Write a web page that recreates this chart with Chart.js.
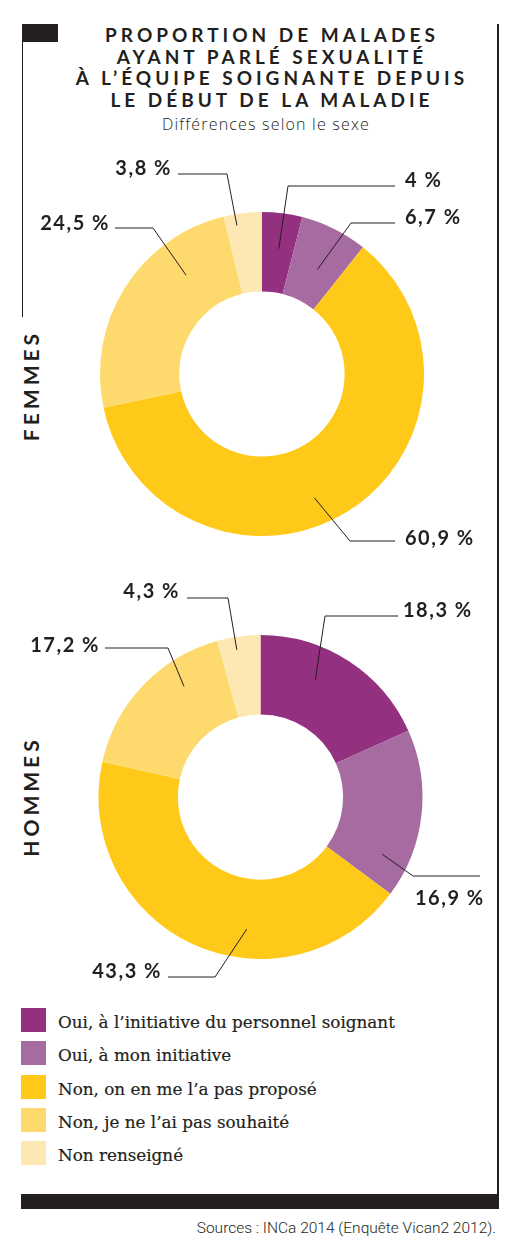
<!DOCTYPE html>
<html lang="fr">
<head>
<meta charset="utf-8">
<script src="https://cdn.jsdelivr.net/npm/chart.js@4"></script>
<style>
  html, body { margin: 0; padding: 0; background: #fff; }
  body { width: 513px; height: 1244px; position: relative; overflow: hidden; font-family: Lato, "Open Sans", sans-serif; color: #231f20; }
  .abs { position: absolute; }
  .rule { position: absolute; background: #231f20; }
  #title { left: 22px; width: 500px; top: 24px; text-align: center; font-weight: 700; font-size: 19px; line-height: 21.5px; letter-spacing: 4px; }
  #subtitle { left: 16px; width: 500px; top: 113px; text-align: center; font-family: "Open Sans", sans-serif; font-weight: 300; font-size: 16px; letter-spacing: 1.2px; }
  .side { position: absolute; font-weight: 700; font-size: 21px; letter-spacing: 4px; white-space: nowrap; transform-origin: center center; }
  #legend { left: 21px; top: 1008px; }
  .item { position: relative; height: 33.3px; }
  .sw { position: absolute; left: 0; top: 0; width: 25px; height: 24px; }
  .lt { position: absolute; left: 37px; top: 4px; font-family: "DejaVu Serif", serif; font-size: 16.8px; line-height: 20px; white-space: nowrap; -webkit-text-stroke: 0.2px #231f20; }
  #sources { right: 17px; top: 1219px; font-family: Roboto, sans-serif; font-weight: 300; font-size: 15.5px; white-space: nowrap; }
  canvas { position: absolute; left: 0; }
</style>
</head>
<body>
<div class="rule" style="left:22px;top:24px;width:36px;height:18px;"></div>
<div class="rule" style="left:21.5px;top:24px;width:1.2px;height:293px;"></div>
<div class="rule" style="left:497px;top:24px;width:1.5px;height:1172px;"></div>
<div class="rule" style="left:21px;top:1194px;width:478px;height:15px;"></div>

<div id="title" class="abs">PROPORTION DE MALADES<br>AYANT PARLÉ SEXUALITÉ<br>À L’ÉQUIPE SOIGNANTE DEPUIS<br>LE DÉBUT DE LA MALADIE</div>
<div id="subtitle" class="abs">Différences selon le sexe</div>

<div id="sideF" class="side">FEMMES</div>
<div id="sideH" class="side">HOMMES</div>

<canvas id="cF" width="513" height="420" style="top:145px;width:513px;height:420px;"></canvas>
<canvas id="cH" width="513" height="420" style="top:575px;width:513px;height:420px;"></canvas>

<div id="legend" class="abs"></div>
<div id="sources" class="abs">Sources : INCa 2014 (Enquête Vican2 2012).</div>

<script>
// ---- data ----
const categories = [
  "Oui, à l’initiative du personnel soignant",
  "Oui, à mon initiative",
  "Non, on en me l’a pas proposé",
  "Non, je ne l’ai pas souhaité",
  "Non renseigné"
];
const femmesValues = [4, 6.7, 60.9, 24.5, 3.8];
const hommesValues = [18.3, 16.9, 43.3, 17.2, 4.3];
const groupLabels = ["FEMMES", "HOMMES"];

// ---- styles ----
const colors = ["#93307f", "#a66ba1", "#fec918", "#fed96d", "#fde8b3"];
const ink = "#231f20";

// leader layout: t = fraction along slice, r = fraction of outer radius,
// ex/ey elbow offset from centre, lx end of horizontal, tx/ty text anchor, al alignment
const femmesLabelLayout = [
  {t:.53, r:.78, ex:26,  ey:-188, lx:133,  tx:143,  ty:-187, al:"left"},
  {t:.56, r:.73, ex:89,  ey:-151, lx:133,  tx:143,  ty:-150, al:"left"},
  {t:.54, r:.83, ex:88,  ey:167,  lx:133,  tx:143,  ty:171,  al:"left"},
  {t:.73, r:.77, ex:-109,ey:-146, lx:-147, tx:-152, ty:-144, al:"right"},
  {t:.30, r:.93, ex:-35, ey:-200, lx:-84,  tx:-90,  ty:-199, al:"right"}
];
const hommesLabelLayout = [
  {t:.38, r:.80, ex:64.5, ey:-181, lx:137.5, tx:142.5, ty:-180, al:"left"},
  {t:.81, r:.83, ex:152.5,ey:79,   lx:219.5, tx:154.5, ty:108,  al:"left"},
  {t:.38, r:.82, ex:-45.5,ey:180,  lx:-92.5, tx:-98.5, ty:181,  al:"right"},
  {t:.69, r:.83, ex:-92.5,ey:-149, lx:-155.5,tx:-160.5,ty:-145, al:"right"},
  {t:.41, r:.92, ex:-32.5,ey:-199, lx:-73.5, tx:-80.5, ty:-199, al:"right"}
];

function fmt(v) { return String(v).replace(".", ",") + " %"; }

const leaderPlugin = {
  id: "leaders",
  afterDatasetsDraw(chart, args, opts) {
    const ctx = chart.ctx;
    const meta = chart.getDatasetMeta(0);
    const values = chart.data.datasets[0].data;
    const layout = opts.layout;
    ctx.save();
    meta.data.forEach((arc, i) => {
      const p = arc.getProps(["x","y","startAngle","endAngle","outerRadius"], true);
      const L = layout[i];
      const a = p.startAngle + (p.endAngle - p.startAngle) * L.t;
      const r = p.outerRadius * L.r;
      const sx = p.x + Math.cos(a) * r, sy = p.y + Math.sin(a) * r;
      ctx.beginPath();
      ctx.moveTo(sx, sy);
      ctx.lineTo(p.x + L.ex, p.y + L.ey);
      ctx.lineTo(p.x + L.lx, p.y + L.ey);
      ctx.strokeStyle = ink;
      ctx.lineWidth = 1;
      ctx.stroke();
      ctx.font = "700 20px Lato, sans-serif";
      ctx.fillStyle = ink;
      ctx.textAlign = L.al;
      ctx.textBaseline = "alphabetic";
      try { ctx.letterSpacing = "1.5px"; } catch (e) {}
      ctx.fillText(fmt(values[i]), p.x + L.tx, p.y + L.ty);
    });
    ctx.restore();
  }
};

function makeDonut(id, values, layout, padding) {
  return new Chart(document.getElementById(id), {
    type: "doughnut",
    data: {
      labels: categories,
      datasets: [{ data: values, backgroundColor: colors, borderWidth: 0, hoverOffset: 0 }]
    },
    options: {
      responsive: false,
      devicePixelRatio: 1,
      animation: false,
      cutout: "51%",
      rotation: 0,
      layout: { padding: padding },
      events: [],
      plugins: {
        legend: { display: false },
        tooltip: { enabled: false },
        leaders: { layout: layout }
      }
    },
    plugins: [leaderPlugin]
  });
}

makeDonut("cF", femmesValues, femmesLabelLayout, {left: 100, right: 89, top: 67, bottom: 29});
makeDonut("cH", hommesValues, hommesLabelLayout, {left: 98, right: 90, top: 60, bottom: 36});

// side labels
function placeSide(id, text, cx, cy) {
  const el = document.getElementById(id);
  el.textContent = text;
  const w = el.offsetWidth, h = el.offsetHeight;
  el.style.left = (cx - w / 2) + "px";
  el.style.top = (cy - h / 2) + "px";
  el.style.transform = "rotate(-90deg)";
}
placeSide("sideF", groupLabels[0], 30, 385);
placeSide("sideH", groupLabels[1], 30, 796);

// legend
const leg = document.getElementById("legend");
categories.forEach((c, i) => {
  const it = document.createElement("div");
  it.className = "item";
  it.innerHTML = '<div class="sw" style="background:' + colors[i] + '"></div><div class="lt"></div>';
  it.querySelector(".lt").textContent = c;
  leg.appendChild(it);
});
</script>
</body>
</html>
